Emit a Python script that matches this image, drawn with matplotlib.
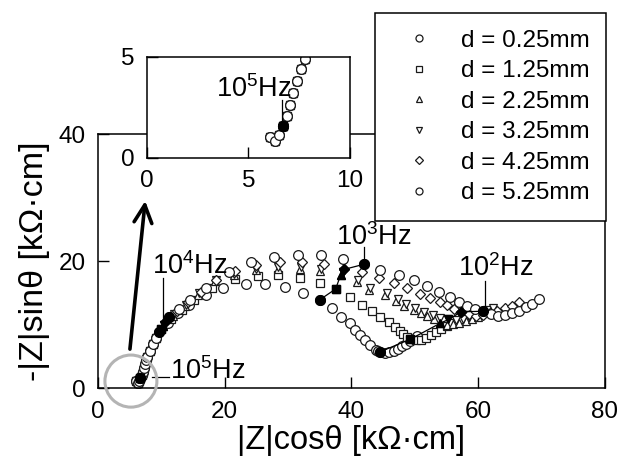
import matplotlib.pyplot as plt
from matplotlib.patches import Ellipse
import numpy as np

plt.rcParams['font.family'] = 'Liberation Sans'
plt.rcParams['mathtext.fontset'] = 'custom'
plt.rcParams['mathtext.rm'] = 'Liberation Sans'
plt.rcParams['mathtext.it'] = 'Liberation Sans:italic'

# Nyquist data, |Z|cos(theta) and -|Z|sin(theta) [kOhm*cm]
# index 3 = 1e5 Hz, 13 = 1e4 Hz, 23 = 1e3 Hz, 33 = 1e2 Hz
labels = ['d = 0.25mm', 'd = 1.25mm', 'd = 2.25mm', 'd = 3.25mm', 'd = 4.25mm', 'd = 5.25mm']
markers = ['o', 's', '^', 'v', 'D', 'o']
msizes = [7.0, 5.5, 6.0, 6.0, 5.2, 7.0]

hf_x = [6.05, 6.3, 6.5, 6.7, 6.9, 7.05, 7.2, 7.4, 7.6, 7.8, 8.2, 8.7, 9.2]
hf_y = [1.05, 0.85, 1.15, 1.6, 2.1, 2.6, 3.2, 3.8, 4.4, 4.9, 5.8, 6.9, 7.9]

x025 = hf_x + [9.7, 11.0, 12.6, 14.4, 17.0, 19.8, 23.3, 26.4, 29.5, 32.3, 35.0,
               36.9, 38.3, 39.7, 40.5, 41.4, 42.2, 43.0, 43.8, 44.2, 44.5,
               45.3, 46.0, 46.7, 47.4, 48.0, 48.6, 49.2, 49.8, 50.4]
y025 = hf_y + [8.8, 10.3, 11.8, 13.1, 14.6, 15.7, 16.4, 16.4, 15.9, 15.0, 13.9,
               12.6, 11.2, 10.2, 9.1, 8.3, 7.6, 6.8, 6.0, 5.8, 5.7,
               5.6, 5.7, 5.9, 6.2, 6.6, 7.0, 7.4, 7.8, 8.2]

x125 = hf_x + [10.0, 11.5, 13.2, 15.2, 18.0, 21.7, 25.2, 28.4, 31.9, 35.1, 37.5,
               39.7, 41.7, 43.3, 44.5, 45.9, 46.9, 47.6, 48.2, 48.8, 49.3,
               50.2, 51.0, 51.8, 52.6, 53.4, 54.2, 55.0, 55.8, 56.6, 57.4]
y125 = hf_y + [9.3, 10.9, 12.3, 13.9, 15.8, 17.2, 17.7, 17.8, 17.3, 16.5, 15.6,
               14.3, 13.1, 12.1, 11.2, 10.4, 9.6, 9.0, 8.5, 8.1, 7.7,
               7.5, 7.6, 7.9, 8.3, 8.8, 9.3, 9.8, 10.2, 10.5, 10.8]

x225 = hf_x + [10.2, 11.8, 13.7, 15.8, 18.4, 21.4, 25.0, 28.4, 31.9, 35.1, 38.3,
               40.8, 42.8, 45.3, 47.0, 48.3, 49.8, 51.0, 52.0, 53.0, 54.0,
               55.0, 56.0, 57.0, 58.0, 59.0, 60.0]
y225 = hf_y + [9.8, 11.4, 12.9, 14.7, 16.8, 17.8, 18.6, 18.8, 18.8, 18.5, 17.8,
               16.7, 15.5, 14.7, 13.7, 12.9, 12.3, 11.8, 11.3, 10.8, 10.2,
               10.0, 10.1, 10.3, 10.6, 10.9, 11.2]

x325 = hf_x + [10.4, 12.0, 13.9, 16.0, 18.6, 21.5, 25.0, 28.4, 32.0, 35.2, 38.6,
               41.0, 43.0, 45.6, 47.3, 48.6, 50.0, 51.5, 52.8, 54.0, 55.3,
               56.5, 57.6, 58.6, 59.6, 60.5, 61.4, 62.3]
y325 = hf_y + [10.0, 11.6, 13.1, 14.9, 17.0, 18.0, 18.8, 19.0, 19.0, 18.7, 18.3,
               17.0, 15.8, 15.0, 14.0, 13.2, 12.6, 12.0, 11.5, 11.1, 10.8,
               10.7, 10.9, 11.2, 11.6, 12.0, 12.3, 12.6]

x425 = hf_x + [10.8, 12.4, 14.2, 16.3, 18.6, 21.6, 25.0, 28.7, 32.2, 35.6, 38.9,
               41.7, 44.4, 46.7, 48.8, 50.8, 52.4, 53.9, 55.0, 56.2, 57.3,
               58.5, 59.6, 60.7, 61.8, 63.0, 64.2, 65.3, 66.4]
y425 = hf_y + [10.6, 12.1, 13.5, 15.2, 17.0, 18.4, 19.4, 19.9, 19.9, 19.6, 18.7,
               18.2, 17.3, 16.5, 15.7, 14.8, 14.2, 13.6, 13.1, 12.5, 12.0,
               11.6, 11.4, 11.5, 11.8, 12.2, 12.6, 13.0, 13.5]

x525 = hf_x + [11.2, 12.8, 14.6, 17.0, 20.6, 24.2, 27.8, 31.6, 35.2, 38.6, 42.0,
               44.5, 47.5, 49.8, 52.0, 53.8, 55.5, 57.0, 58.2, 59.5, 60.7,
               62.0, 63.2, 64.3, 65.3, 66.4, 67.5, 68.5, 69.6]
y525 = hf_y + [11.2, 12.4, 13.9, 15.8, 18.2, 19.8, 20.6, 20.9, 20.9, 20.3, 19.5,
               18.6, 17.8, 17.0, 16.0, 15.1, 14.4, 13.5, 13.0, 12.5, 12.1,
               11.7, 11.4, 11.5, 11.8, 12.2, 12.8, 13.3, 14.0]

series_x = [x025, x125, x225, x325, x425, x525]
series_y = [y025, y125, y225, y325, y425, y525]
decade_idx = [3, 13, 23, 33]

fig = plt.figure(figsize=(6.2, 4.67), dpi=100)
ax = fig.add_axes([0.158, 0.169, 0.8177, 0.544])
ins = fig.add_axes([0.2371, 0.6617, 0.3274, 0.2163])

def draw(a):
    handles = []
    for xs, ys, m, ms, lab in zip(series_x, series_y, markers, msizes, labels):
        h, = a.plot(xs, ys, ls='none', marker=m, ms=ms, mfc='white', mec='#1a1a1a',
                    mew=0.9, label=lab)
        handles.append(h)
    # iso-frequency lines with filled points
    for k in decade_idx:
        fx = [xs[k] for xs in series_x]
        fy = [ys[k] for ys in series_y]
        a.plot(fx, fy, color='black', lw=0.9)
        for xs, ys, m, ms in zip(series_x, series_y, markers, msizes):
            a.plot(xs[k], ys[k], ls='none', marker=m, ms=ms, mfc='black', mec='black')
    return handles

handles = draw(ax)
draw(ins)

fs = 17.5
afs = 19.5
ax.set_xlim(0, 80)
ax.set_ylim(0, 40)
ax.set_xticks([0, 20, 40, 60, 80])
ax.set_yticks([0, 20, 40])
ax.tick_params(direction='in', length=8, width=1, labelsize=fs, pad=9,
               top=False, right=False)
for s in ax.spines.values():
    s.set_linewidth(1.1)
ax.set_xlabel('|Z|cosθ [kΩ·cm]', fontsize=23.5, labelpad=2)
ax.set_ylabel('-|Z|sinθ [kΩ·cm]', fontsize=24.5, labelpad=6)

ins.set_xlim(0, 10)
ins.set_ylim(0, 5)
ins.set_xticks([0, 5, 10])
ins.set_yticks([0, 5])
ins.tick_params(direction='in', length=8, width=1, labelsize=fs, pad=9)
for s in ins.spines.values():
    s.set_linewidth(1.1)

# annotations
ax.plot([10.2, 10.2], [9.9, 17.4], color='black', lw=0.9)
ax.text(8.5, 18.0, r'10$^4$Hz', fontsize=afs, va='baseline')
ax.plot([42.0, 42.0], [19.5, 22.2], color='black', lw=0.9)
ax.text(37.6, 22.6, r'10$^3$Hz', fontsize=afs, va='baseline')
ax.plot([61.0, 61.0], [12.4, 16.9], color='black', lw=0.9)
ax.text(56.8, 17.7, r'10$^2$Hz', fontsize=afs, va='baseline')
ax.plot([8.6, 11.2], [1.8, 1.8], color='black', lw=0.9)
ax.text(11.3, 1.4, r'10$^5$Hz', fontsize=afs, va='baseline')

ins.plot([6.65, 6.65], [1.9, 2.85], color='black', lw=0.9)
ins.text(3.4, 3.0, r'10$^5$Hz', fontsize=afs, va='baseline')

ax.add_patch(Ellipse((5.2, 1.1), 8.2, 8.2, fill=False, ec='#b4b4b4', lw=2.2,
                     clip_on=False, zorder=5))
ax.annotate('', xy=(7.5, 29.9), xytext=(5.0, 5.7),
            arrowprops=dict(arrowstyle='->', lw=2.6, color='black', mutation_scale=32),
            annotation_clip=False)

leg = fig.legend(handles, labels, loc='upper right', bbox_to_anchor=(606 / 620, 1 - 13 / 467),
                 fontsize=17.5, markerscale=0.72, frameon=True, fancybox=False,
                 framealpha=1, edgecolor='black', borderpad=0.68, handlelength=2.25,
                 handletextpad=0.6, labelspacing=0.35, borderaxespad=0)
leg.get_frame().set_linewidth(1.1)
leg.set_zorder(10)

plt.savefig('out.png', dpi=100)
